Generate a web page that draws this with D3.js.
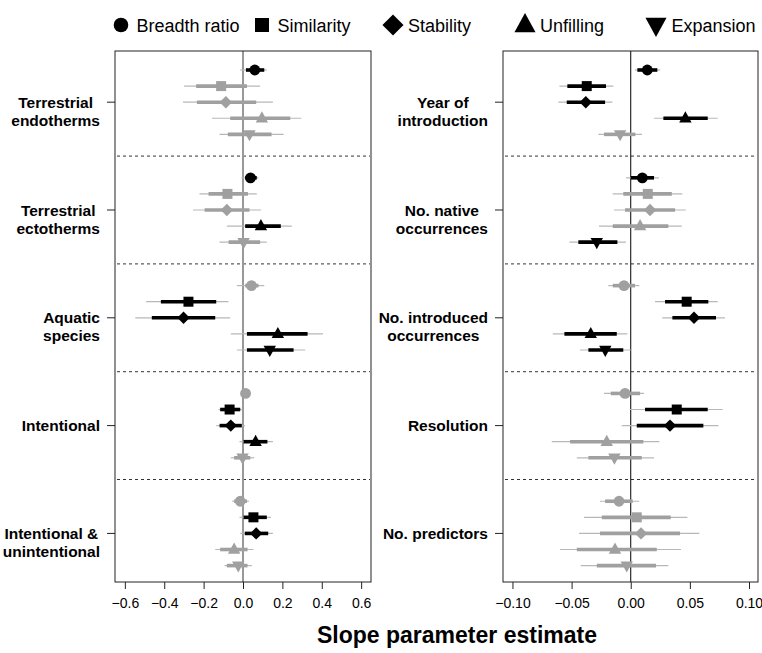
<!DOCTYPE html>
<html>
<head>
<meta charset="utf-8">
<script src="https://cdn.jsdelivr.net/npm/d3@7"></script>
<style>
    body { margin: 0; background: #fff; }
    svg { font-family: "Liberation Sans", Arial, Helvetica, sans-serif; }
</style>
</head>
<body>
<div id="chart"></div>
<script>
"use strict";

// Legend entries, in row order within every group
const measures = ['Breadth ratio', 'Similarity', 'Stability', 'Unfilling', 'Expansion'];

const leftGroups = ['Terrestrial\nendotherms', 'Terrestrial\nectotherms', 'Aquatic\nspecies',
    'Intentional', 'Intentional &\nunintentional'];
const rightGroups = ['Year of\nintroduction', 'No. native\noccurrences', 'No. introduced\noccurrences',
    'Resolution', 'No. predictors'];

const leftTicks = [-0.6, -0.4, -0.2, 0.0, 0.2, 0.4, 0.6];
const rightTicks = [-0.10, -0.05, 0.00, 0.05, 0.10];

// Estimates: one row per group, one value per measure
const leftEst = [
    [0.060, -0.111, -0.087, 0.096, 0.033],
    [0.038, -0.079, -0.082, 0.091, 0.003],
    [0.043, -0.277, -0.302, 0.177, 0.136],
    [0.013, -0.068, -0.062, 0.064, -0.002],
    [-0.014, 0.053, 0.067, -0.045, -0.024]
];
// Inner interval (thick bar)
const leftInner = [
    [[0.015, 0.108], [-0.238, 0.020], [-0.234, 0.067], [-0.065, 0.240], [-0.077, 0.145]],
    [[0.011, 0.070], [-0.175, 0.025], [-0.195, 0.033], [0.011, 0.192], [-0.073, 0.087]],
    [[0.011, 0.079], [-0.417, -0.136], [-0.463, -0.141], [0.020, 0.328], [0.020, 0.257]],
    [[-0.006, 0.033], [-0.116, -0.014], [-0.119, -0.006], [0.003, 0.124], [-0.045, 0.037]],
    [[-0.045, 0.020], [0.003, 0.121], [0.009, 0.128], [-0.116, 0.023], [-0.082, 0.023]]
];
// Outer interval (thin line)
const leftOuter = [
    [[-0.014, 0.121], [-0.299, 0.087], [-0.305, 0.152], [-0.158, 0.296], [-0.119, 0.206]],
    [[-0.009, 0.079], [-0.221, 0.070], [-0.254, 0.092], [-0.082, 0.248], [-0.119, 0.121]],
    [[-0.031, 0.108], [-0.492, -0.074], [-0.547, -0.065], [-0.062, 0.406], [-0.031, 0.316]],
    [[-0.014, 0.040], [-0.124, -0.001], [-0.136, 0.011], [-0.018, 0.152], [-0.062, 0.057]],
    [[-0.055, 0.030], [-0.018, 0.142], [-0.014, 0.152], [-0.141, 0.053], [-0.094, 0.045]]
];
// 1 = drawn black (significant), 0 = grey
const leftSig = [
    [1, 0, 0, 0, 0],
    [1, 0, 0, 1, 0],
    [0, 1, 1, 1, 1],
    [0, 1, 1, 1, 0],
    [0, 1, 1, 0, 0]
];

const rightEst = [
    [0.0140, -0.0372, -0.0380, 0.0462, -0.0090],
    [0.0098, 0.0144, 0.0163, 0.0079, -0.0287],
    [-0.0057, 0.0473, 0.0535, -0.0338, -0.0215],
    [-0.0048, 0.0389, 0.0332, -0.0203, -0.0138],
    [-0.0099, 0.0051, 0.0087, -0.0133, -0.0034]
];
const rightInner = [
    [[0.0056, 0.0225], [-0.0536, -0.0209], [-0.0541, -0.0217], [0.0276, 0.0651], [-0.0226, 0.0039]],
    [[0.0000, 0.0197], [-0.0063, 0.0347], [-0.0048, 0.0375], [-0.0152, 0.0318], [-0.0443, -0.0113]],
    [[-0.0152, 0.0036], [0.0290, 0.0656], [0.0352, 0.0721], [-0.0561, -0.0118], [-0.0358, -0.0063]],
    [[-0.0169, 0.0079], [0.0121, 0.0651], [0.0051, 0.0614], [-0.0513, 0.0107], [-0.0358, 0.0093]],
    [[-0.0217, 0.0017], [-0.0245, 0.0338], [-0.0260, 0.0417], [-0.0456, 0.0220], [-0.0287, 0.0214]]
];
const rightOuter = [
    [[0.0036, 0.0248], [-0.0603, -0.0147], [-0.0612, -0.0155], [0.0197, 0.0735], [-0.0274, 0.0096]],
    [[-0.0040, 0.0239], [-0.0152, 0.0436], [-0.0141, 0.0465], [-0.0268, 0.0431], [-0.0519, -0.0040]],
    [[-0.0190, 0.0073], [0.0205, 0.0735], [0.0267, 0.0797], [-0.0659, -0.0029], [-0.0429, 0.0000]],
    [[-0.0226, 0.0113], [-0.0006, 0.0778], [-0.0076, 0.0741], [-0.0668, 0.0242], [-0.0456, 0.0197]],
    [[-0.0260, 0.0073], [-0.0395, 0.0479], [-0.0437, 0.0580], [-0.0598, 0.0425], [-0.0423, 0.0318]]
];
const rightSig = [
    [1, 1, 1, 1, 0],
    [1, 0, 0, 0, 1],
    [0, 1, 1, 1, 1],
    [0, 1, 1, 0, 0],
    [0, 0, 0, 0, 0]
];

const WIDTH = 762, HEIGHT = 653;
const GREY = '#a0a0a0', THIN = '#b8b8b8';
const GROUP_STEP = 6.7;  // rows between first rows of consecutive groups

// Marker shapes, centred on 0,0; s scales the whole marker
function markerPath(k, s) {
    let p = d3.path();
    if (k === 0) {
        p.arc(0, 0, 5.4 * s, 0, 2 * Math.PI);
    } else if (k === 1) {
        p.rect(-5 * s, -5 * s, 10 * s, 10 * s);
    } else if (k === 2) {
        p.moveTo(0, -6.2 * s); p.lineTo(6.2 * s, 0); p.lineTo(0, 6.2 * s); p.lineTo(-6.2 * s, 0);
    } else if (k === 3) {
        p.moveTo(0, -7 * s); p.lineTo(6.2 * s, 4.2 * s); p.lineTo(-6.2 * s, 4.2 * s);
    } else {
        p.moveTo(0, 7 * s); p.lineTo(6.2 * s, -4.2 * s); p.lineTo(-6.2 * s, -4.2 * s);
    }
    p.closePath();
    return p.toString();
}

let svg = d3.select('#chart').append('svg')
    .attr('width', WIDTH)
    .attr('height', HEIGHT);

function drawPanel(cfg) {
    let box = {left: cfg.left, right: cfg.right, top: 51, bottom: 582};
    let x = d3.scaleLinear().domain(cfg.domain).range([box.left, box.right]);
    let y = d3.scaleLinear()
        .domain([0, 4 * GROUP_STEP + 4])
        .range([70, 565.6]);

    let rows = [];
    cfg.est.forEach(function (vals, g) {
        vals.forEach(function (v, k) {
            rows.push({g: g, k: k, est: v, inner: cfg.inner[g][k],
                       outer: cfg.outer[g][k], sig: cfg.sig[g][k],
                       pos: g * GROUP_STEP + k});
        });
    });

    let panel = svg.append('g');

    // Dashed separators between groups
    panel.selectAll('line.sep')
      .data(d3.range(cfg.groups.length - 1))
      .enter().append('line')
        .attr('x1', box.left + 2).attr('x2', box.right - 1)
        .attr('y1', function (g) { return y(g * GROUP_STEP + 5.35); })
        .attr('y2', function (g) { return y(g * GROUP_STEP + 5.35); })
        .attr('stroke', '#333').attr('stroke-width', 1)
        .attr('stroke-dasharray', '3,3');

    // Zero reference line
    panel.append('line')
        .attr('x1', x(0)).attr('x2', x(0))
        .attr('y1', box.top).attr('y2', box.bottom)
        .attr('stroke', cfg.zeroColor).attr('stroke-width', cfg.zeroWidth);

    panel.selectAll('line.outer')
      .data(rows)
      .enter().append('line')
        .attr('x1', function (d) { return x(d.outer[0]); })
        .attr('x2', function (d) { return x(d.outer[1]); })
        .attr('y1', function (d) { return y(d.pos); })
        .attr('y2', function (d) { return y(d.pos); })
        .attr('stroke', THIN).attr('stroke-width', 1.2);

    panel.selectAll('line.inner')
      .data(rows)
      .enter().append('line')
        .attr('x1', function (d) { return x(d.inner[0]); })
        .attr('x2', function (d) { return x(d.inner[1]); })
        .attr('y1', function (d) { return y(d.pos); })
        .attr('y2', function (d) { return y(d.pos); })
        .attr('stroke', function (d) { return d.sig ? '#000' : GREY; })
        .attr('stroke-width', 3.6);

    panel.selectAll('path.mark')
      .data(rows)
      .enter().append('path')
        .attr('d', function (d) { return markerPath(d.k, 1); })
        .attr('transform', function (d) {
            return 'translate(' + x(d.est) + ',' + y(d.pos) + ')';
        })
        .attr('fill', function (d) { return d.sig ? '#000' : GREY; });

    // Box
    panel.append('rect')
        .attr('x', box.left).attr('y', box.top)
        .attr('width', box.right - box.left).attr('height', box.bottom - box.top)
        .attr('fill', 'none').attr('stroke', '#222').attr('stroke-width', 1);

    let xAxis = d3.axisBottom(x)
        .tickValues(cfg.ticks)
        .tickFormat(d3.format(cfg.fmt))
        .tickSize(7).tickSizeOuter(0).tickPadding(9);
    let ax = panel.append('g')
        .attr('transform', 'translate(0,' + box.bottom + ')')
        .call(xAxis);
    ax.select('.domain').remove();
    ax.selectAll('line').attr('stroke', '#222');
    ax.selectAll('text').attr('font-size', 14).attr('fill', '#000')
        .attr('font-family', '"Liberation Sans", Arial, sans-serif');

    // Group labels: lines centred on each other, block right-aligned
    cfg.groups.forEach(function (label, g) {
        let ty = y(g * GROUP_STEP + 2);
        panel.append('line')
            .attr('x1', box.left - 8).attr('x2', box.left)
            .attr('y1', ty).attr('y2', ty)
            .attr('stroke', '#222');
        let lines = label.split('\n');
        let texts = lines.map(function (t, i) {
            return panel.append('text')
                .attr('y', ty + i * 18)
                .attr('dy', '0.36em')
                .attr('font-size', 15.5)
                .attr('font-weight', 'bold')
                .text(t);
        });
        let maxW = d3.max(texts, function (t) { return t.node().getComputedTextLength(); });
        let cx = box.left - 15 - maxW / 2;
        texts.forEach(function (t) { t.attr('x', cx).attr('text-anchor', 'middle'); });
    });
}

drawPanel({left: 115, right: 371, domain: [-0.65, 0.65], ticks: leftTicks, fmt: '.1f',
           groups: leftGroups, est: leftEst, inner: leftInner, outer: leftOuter, sig: leftSig,
           zeroColor: '#999', zeroWidth: 2});
drawPanel({left: 503, right: 758, domain: [-0.108, 0.1076], ticks: rightTicks, fmt: '.2f',
           groups: rightGroups, est: rightEst, inner: rightInner, outer: rightOuter, sig: rightSig,
           zeroColor: '#000', zeroWidth: 1});

// Legend across the top
let legendX = [121, 262, 393, 525, 656];
let legend = svg.append('g').selectAll('g')
  .data(measures)
  .enter().append('g')
    .attr('transform', function (d, i) { return 'translate(' + legendX[i] + ',25)'; });
legend.append('path')
    .attr('d', function (d, i) { return markerPath(i, i === 0 ? 1.35 : (i === 1 ? 1.4 : 1.7)); })
    .attr('fill', '#000');
legend.append('text')
    .attr('x', function (d, i) { return [15.5, 15.5, 15, 15, 15.5][i]; })
    .attr('y', 7)
    .attr('font-size', 18)
    .text(function (d) { return d; });

svg.append('text')
    .attr('x', 457).attr('y', 643)
    .attr('text-anchor', 'middle')
    .attr('font-size', 23)
    .attr('font-weight', 'bold')
    .text('Slope parameter estimate');
</script>
</body>
</html>
